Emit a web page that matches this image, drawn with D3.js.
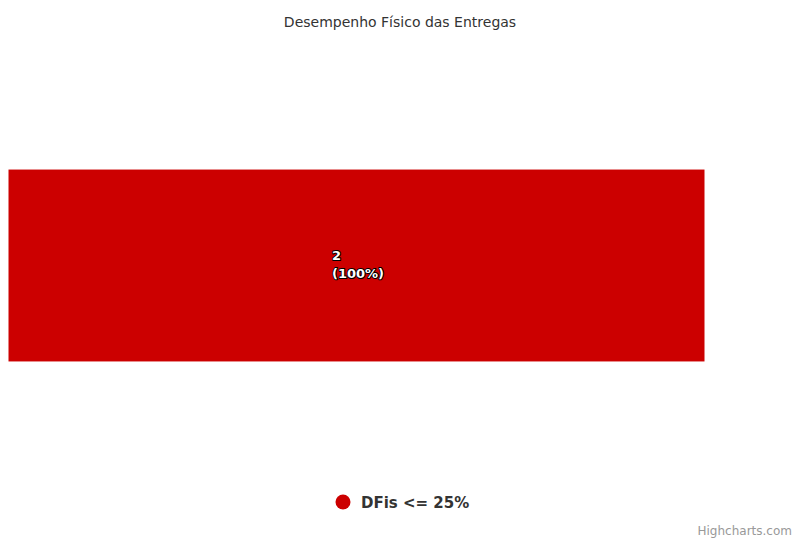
<!DOCTYPE html>
<html>
<head>
<meta charset="utf-8">
<script src="https://cdn.jsdelivr.net/npm/d3@7"></script>
<style>
  html, body { margin: 0; padding: 0; background: #fff; }
  svg { display: block; font-family: "DejaVu Sans", Verdana, sans-serif; }
</style>
</head>
<body>
<svg id="chart" width="794" height="539"></svg>
<script>
const chartTitle = "Desempenho Físico das Entregas";
const categories = ["Entregas"];
const seriesNames = ["DFis <= 25%"];
const seriesValues = [[2]];
const seriesColors = ["#CC0000"];
const credits = "Highcharts.com";

const W = 794, H = 539;
const plot = { left: 8, right: 705, top: 50, bottom: 481 };
const svg = d3.select("#chart");

// title
svg.append("text")
  .attr("x", 400).attr("y", 27)
  .attr("text-anchor", "middle")
  .attr("fill", "#333")
  .style("font-size", "14px")
  .text(chartTitle);

// scales (percent stacked bar)
const y = d3.scaleBand().domain(categories).range([plot.top, plot.bottom]).paddingInner(0).paddingOuter(0.617);
const x = d3.scaleLinear().domain([0, 100]).range([plot.left, plot.right]);

const totals = categories.map((c, i) => d3.sum(seriesValues, s => s[i]));
const stackData = categories.map((c, i) => {
  const o = { cat: c };
  seriesNames.forEach((n, j) => o[n] = seriesValues[j][i] / totals[i] * 100);
  return o;
});
const stack = d3.stack().keys(seriesNames)(stackData);

const g = svg.append("g");
stack.forEach((layer, j) => {
  layer.forEach((d, i) => {
    const cat = categories[i];
    g.append("rect")
      .attr("x", x(d[0]))
      .attr("y", y(cat))
      .attr("width", x(d[1]) - x(d[0]))
      .attr("height", y.bandwidth())
      .attr("fill", seriesColors[j])
      .attr("stroke", "#fff")
      .attr("stroke-width", 1);

    const cx = (x(d[0]) + x(d[1])) / 2;
    const cy = y(cat) + y.bandwidth() / 2;
    const lines = [String(seriesValues[j][i]), "(" + Math.round(d[1] - d[0]) + "%)"];
    const lbl = g.append("g");
    const makeText = (outline) => {
      const t = lbl.append("text")
        .attr("y", cy - 6)
        .style("font-size", "13px")
        .style("font-weight", "bold")
        .attr("fill", "#fff");
      if (outline) t.attr("stroke", "#000").attr("stroke-width", 2).attr("stroke-linejoin", "round");
      lines.forEach((l, k) => t.append("tspan").attr("dy", k === 0 ? 0 : 18).text(l));
      return t;
    };
    const t1 = makeText(true), t2 = makeText(false);
    const bw = t2.node().getBBox().width;
    [t1, t2].forEach(t => t.selectAll("tspan").attr("x", cx - bw / 2 + 6));
  });
});

// legend
const legend = svg.append("g");
seriesNames.forEach((n, j) => {
  legend.append("circle").attr("cx", 343).attr("cy", 502).attr("r", 7.5).attr("fill", seriesColors[j]);
  legend.append("text").attr("x", 361).attr("y", 508)
    .attr("fill", "#333")
    .style("font-size", "15px").style("font-weight", "bold")
    .text(n);
});

// credits
svg.append("text").attr("x", 792).attr("y", 535)
  .attr("text-anchor", "end").attr("fill", "#999")
  .style("font-size", "12px").text(credits);
</script>
</body>
</html>
